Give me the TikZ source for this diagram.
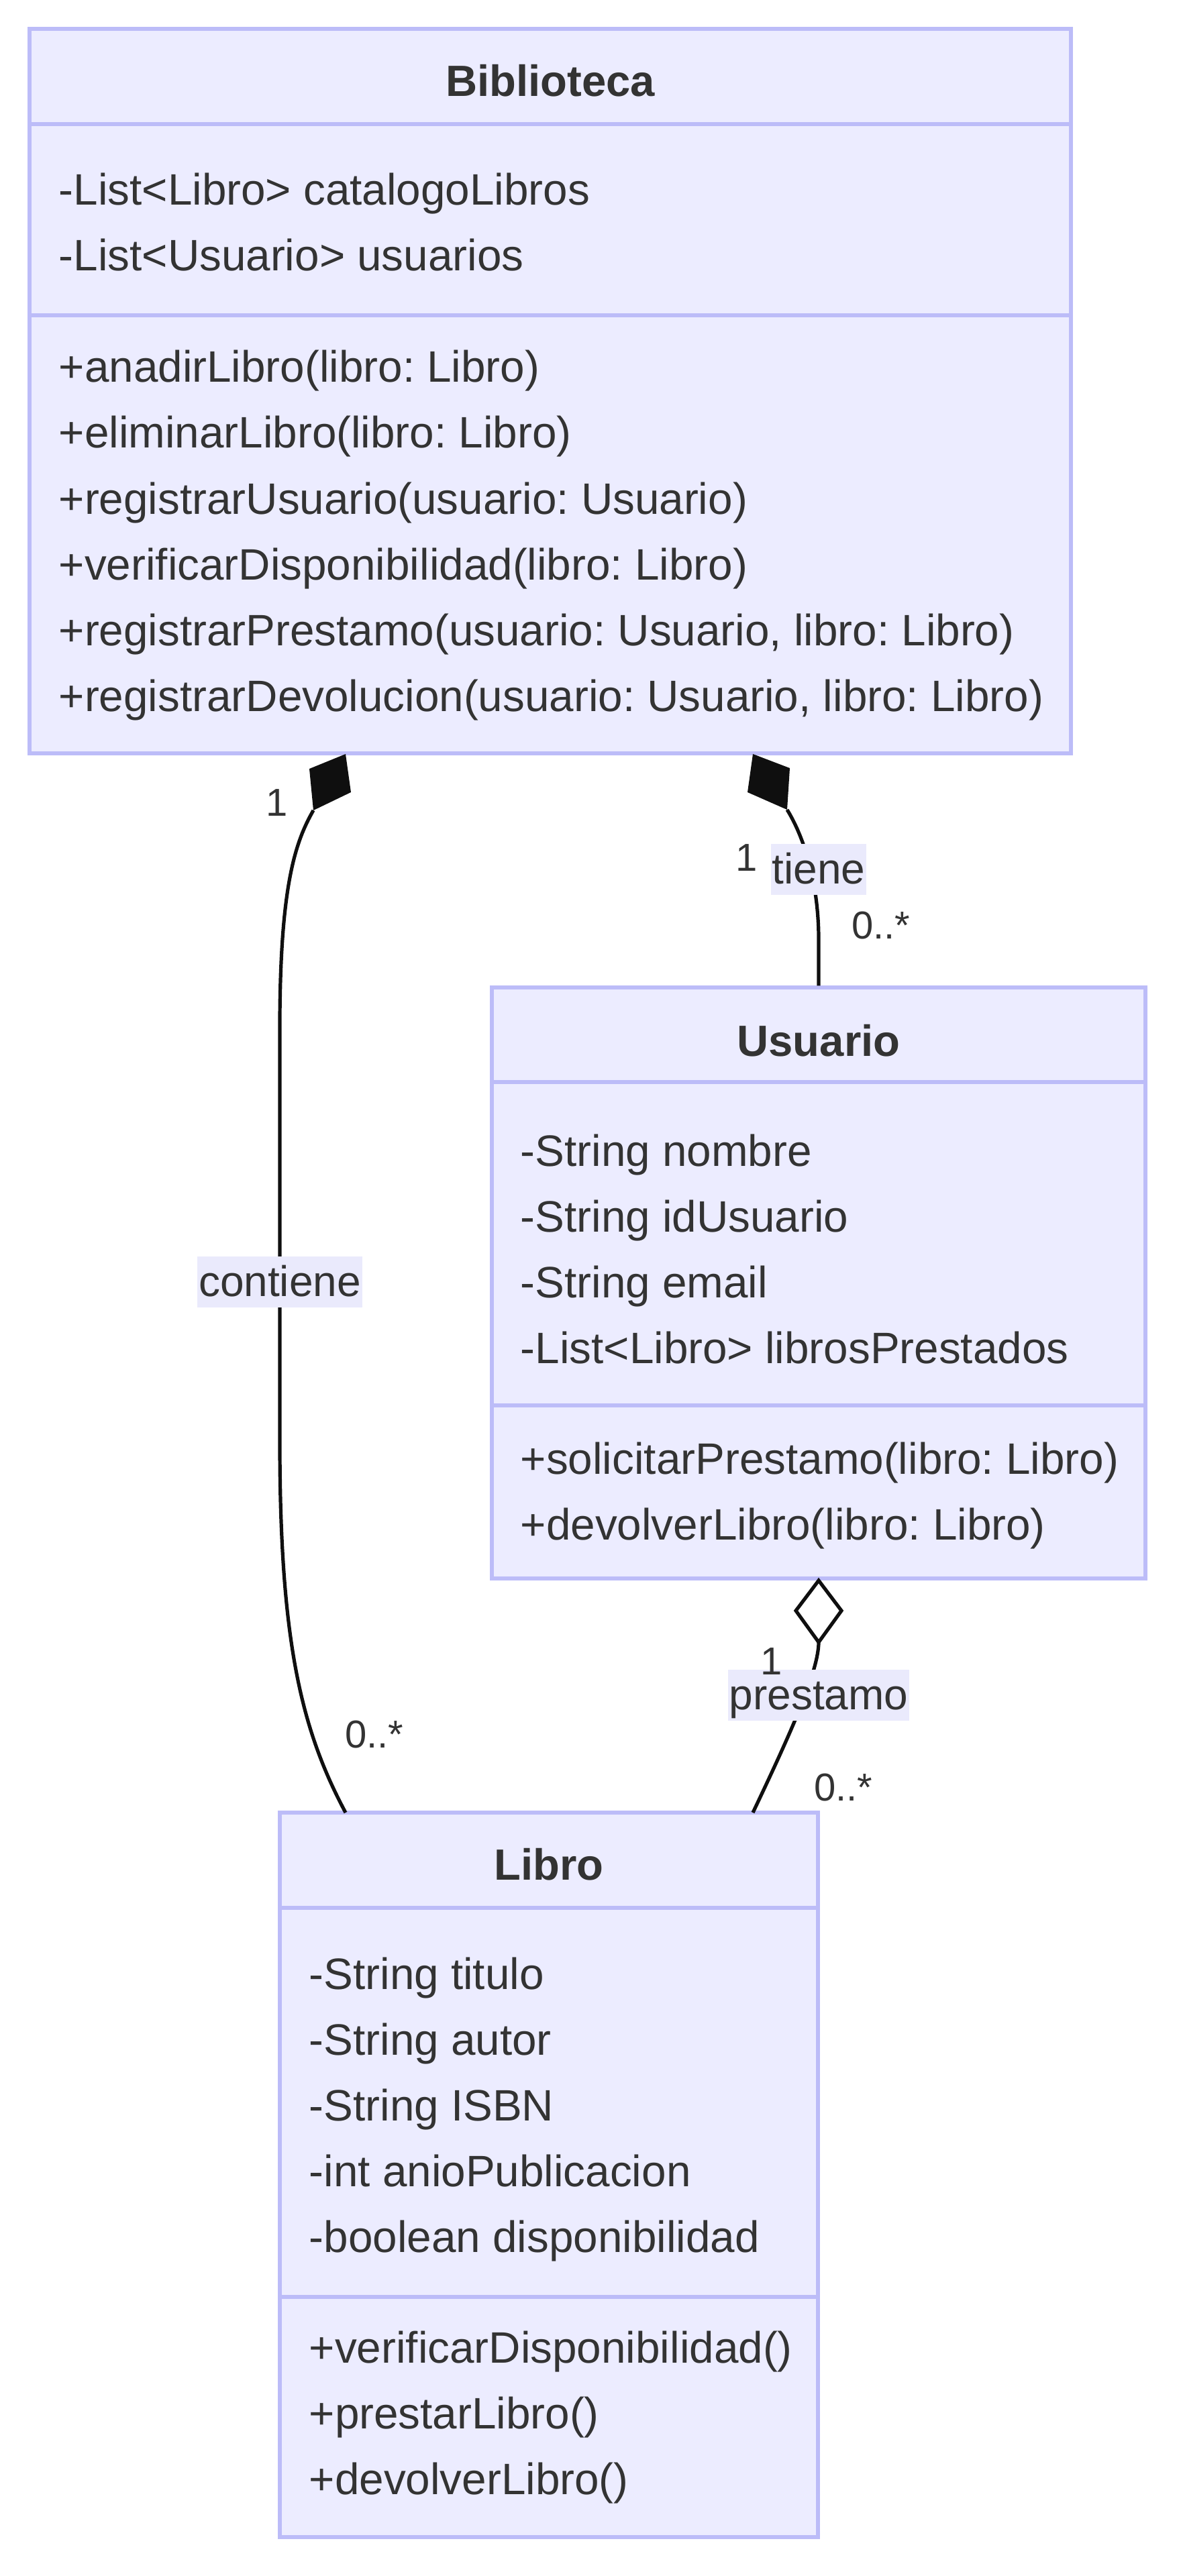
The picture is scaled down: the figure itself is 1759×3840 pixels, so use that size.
\documentclass[tikz,border=0pt]{standalone}
\usepackage{fontspec}
\setmainfont{Liberation Sans}
\frenchspacing
\definecolor{classfill}{HTML}{ECECFF}
\definecolor{classline}{HTML}{BCBCF8}
\definecolor{labelfill}{HTML}{EAEAFC}
\definecolor{textgray}{HTML}{333333}
\definecolor{linecol}{HTML}{0F0F0F}
\tikzset{
    classbox/.style={draw=classline, fill=classfill, line width=1.35pt, inner sep=0pt},
    sepline/.style={draw=classline, line width=1.35pt},
    classname/.style={anchor=base, inner sep=0pt, text=textgray, font=\fontsize{16.3}{19}\selectfont\bfseries},
    member/.style={anchor=base west, inner sep=0pt, text=textgray, font=\fontsize{16.4}{19}\selectfont},
    rel/.style={draw=linecol, line width=1.3pt},
    edgelabel/.style={fill=labelfill, text=textgray, inner xsep=0.5pt, inner ysep=0pt,
        text height=14.75pt, text depth=4.25pt, font=\fontsize{16}{19}\selectfont},
    mult/.style={inner sep=0pt, text=textgray, font=\fontsize{14.5}{17}\selectfont}
}
\begin{document}
\begin{tikzpicture}[x=0.25pt, y=-0.25pt]
    % constants
    \def\rowh{98}
    \useasboundingbox (0,0) rectangle (1759,3840);
    % class boxes
    \node [classbox, minimum width=388pt, minimum height=270pt] (bib) at (820,583) {};
    \node [classbox, minimum width=243.5pt, minimum height=220.25pt] (usr) at (1220,1912.5) {};
    \node [classbox, minimum width=200.5pt, minimum height=270pt] (lib) at (818,3242) {};
    % compartment lines
    \coordinate (bib-s1) at (820,185);
    \coordinate (bib-s2) at (820,470);
    \coordinate (usr-s1) at (1220,1613);
    \coordinate (usr-s2) at (1220,2095);
    \coordinate (lib-s1) at (818,2844);
    \coordinate (lib-s2) at (818,3424);
    \foreach \c in {bib, usr, lib} {
        \draw [sepline] (\c.west |- \c-s1) -- (\c.east |- \c-s1);
        \draw [sepline] (\c.west |- \c-s2) -- (\c.east |- \c-s2);
    }
    % Biblioteca
    \node [classname] (bib-t) at (820,144) {Biblioteca};
    \foreach \m [count=\i from 0] in {{-List<Libro> catalogoLibros}, {-List<Usuario> usuarios}}
        \node [member] (bib-a\i) at (87,306+\i*\rowh) {\m};
    \foreach \m [count=\i from 0] in {{+anadirLibro(libro: Libro)}, {+eliminarLibro(libro: Libro)},
        {+registrarUsuario(usuario: Usuario)}, {+verificarDisponibilidad(libro: Libro)},
        {+registrarPrestamo(usuario: Usuario, libro: Libro)},
        {+registrarDevolucion(usuario: Usuario, libro: Libro)}}
        \node [member] (bib-m\i) at (87,570+\i*\rowh) {\m};
    % Usuario
    \node [classname] (usr-t) at (1220,1574) {Usuario};
    \foreach \m [count=\i from 0] in {{-String nombre}, {-String idUsuario}, {-String email},
        {-List<Libro> librosPrestados}}
        \node [member] (usr-a\i) at (775,1738+\i*\rowh) {\m};
    \foreach \m [count=\i from 0] in {{+solicitarPrestamo(libro: Libro)}, {+devolverLibro(libro: Libro)}}
        \node [member] (usr-m\i) at (775,2197+\i*\rowh) {\m};
    % Libro
    \node [classname] (lib-t) at (818,2802) {Libro};
    \foreach \m [count=\i from 0] in {{-String titulo}, {-String autor}, {-String ISBN},
        {-int anioPublicacion}, {-boolean disponibilidad}}
        \node [member] (lib-a\i) at (460,2965+\i*\rowh) {\m};
    \foreach \m [count=\i from 0] in {{+verificarDisponibilidad()}, {+prestarLibro()}, {+devolverLibro()}}
        \node [member] (lib-m\i) at (460,3522+\i*\rowh) {\m};
    % diamond corners
    \coordinate (c-tip) at (515,1124);
    \coordinate (c-r) at (523,1181);
    \coordinate (c-tail) at (467,1208);
    \coordinate (c-l) at (461,1146);
    \coordinate (t-tip) at (1122,1124);
    \coordinate (t-r) at (1177,1145);
    \coordinate (t-tail) at (1173,1207);
    \coordinate (t-l) at (1114,1181);
    \coordinate (p-tip) at (1220,2356);
    \coordinate (p-r) at (1254,2401);
    \coordinate (p-tail) at (1220,2448);
    \coordinate (p-l) at (1186,2401);
    \coordinate (lib-in1) at (515,2702);
    \coordinate (lib-in2) at (1122,2702);
    % relations
    \fill [linecol] (c-tip) -- (c-r) -- (c-tail) -- (c-l) -- cycle;
    \draw [rel] (c-tail) .. controls (440,1255) and (418,1320) .. (417,1520) -- (417,2150)
        .. controls (417,2450) and (450,2580) .. (lib-in1);
    \fill [linecol] (t-tip) -- (t-r) -- (t-tail) -- (t-l) -- cycle;
    \draw [rel] (t-tail) .. controls (1200,1251) and (1220,1320) .. (1220,1400) -- (usr.north);
    \draw [rel, fill=white] (p-tip) -- (p-r) -- (p-tail) -- (p-l) -- cycle;
    \draw [rel] (p-tail) .. controls (1220,2490) and (1180,2580) .. (lib-in2);
    % relation labels
    \node [edgelabel] (contiene) at (417,1911) {contiene};
    \node [edgelabel] (tiene) at (1220,1296) {tiene};
    \node [edgelabel] (prestamo) at (1220,2527) {prestamo};
    % multiplicities
    \node [mult] (c-one) at (413,1197) {1};
    \node [mult] (c-many) at (558,2586) {0..*};
    \node [mult] (t-one) at (1113,1279) {1};
    \node [mult] (t-many) at (1313,1380) {0..*};
    \node [mult] (p-one) at (1150,2477) {1};
    \node [mult] (p-many) at (1257,2665) {0..*};
\end{tikzpicture}
\end{document}
